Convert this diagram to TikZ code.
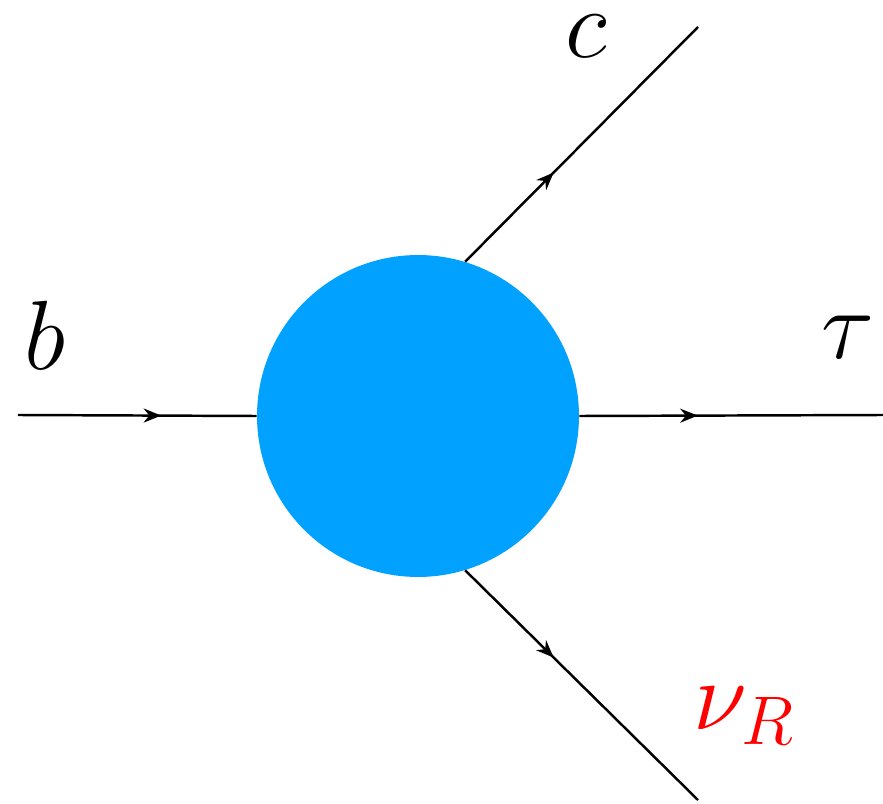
\RequirePackage{fix-cm}
\documentclass[tikz,border=0pt]{standalone}
\usetikzlibrary{arrows.meta,decorations.markings}
\definecolor{blobblue}{RGB}{0,161,255}
\begin{document}
\begin{tikzpicture}[x=0.02cm,y=-0.02cm,
  fermion/.style={line width=1.4pt,postaction={decorate},
    decoration={markings,mark=at position #1 with {\arrow{Stealth[length=10pt,width=8pt]}}}},
  lbl/.style={font=\fontsize{56}{60}\selectfont,inner sep=0pt},
  blob/.style={circle,fill=blobblue,inner sep=0pt,minimum size=6.44cm}]
\useasboundingbox (0,0) rectangle (883,804);
\node[blob] (v) at (418,416) {};
\coordinate (bin) at (18,415);
\coordinate (tauout) at (883,415);
\coordinate (cout) at (698,27);
\coordinate (nuout) at (698,800);
\coordinate (cst) at (v.73);
\coordinate (nust) at (v.-73);
\draw[fermion=0.6] (bin) -- (v.west);
\draw[fermion=0.39] (v.east) -- (tauout);
\draw[fermion=0.38] (cst) -- (cout);
\draw[fermion=0.38] (nust) -- (nuout);
\node[lbl] (lb) at (45,335) {$b$};
\node[lbl] (lc) at (586,36) {$c$};
\node[lbl] (ltau) at (848,337) {$\tau$};
\node[lbl,text=red] (lnu) at (744,716) {$\nu_R$};
\end{tikzpicture}
\end{document}
